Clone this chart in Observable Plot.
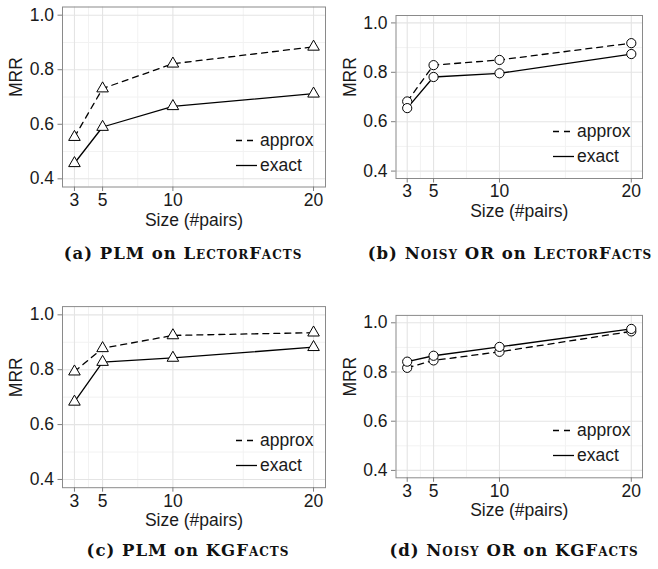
<!DOCTYPE html>
<html>
<head>
<meta charset="utf-8">
<script src="https://cdn.jsdelivr.net/npm/d3@7"></script>
<script src="https://cdn.jsdelivr.net/npm/@observablehq/plot@0.6"></script>
<style>
  html, body { margin: 0; padding: 0; background: #fff; }
  #fig { position: relative; width: 658px; height: 569px; overflow: hidden; background: #fff; }
  .cell { position: absolute; }
  .cap { position: absolute; transform: translate(-50%, -50%); white-space: nowrap;
         font-family: "DejaVu Serif", serif; font-weight: bold; font-size: 16.5px; letter-spacing: 1px; color: #111; }
  .sc { font-variant: small-caps; }
  .leg { position: absolute; font-family: "Liberation Sans", Arial, sans-serif; font-size: 17.5px; color: #1a1a1a; }
  .leg div { position: absolute; white-space: nowrap; height: 20px; line-height: 20px; transform: translateY(-50%); }
  .leg svg { position: absolute; left: 0; top: 9px; }
  .leg span { position: absolute; left: 24px; top: 0; }
</style>
</head>
<body>
<div id="fig"></div>
<script>
// ---- data ----
const sizes = [3, 5, 10, 20];
const xTicks = [3, 5, 10, 20];
const xMinor = [4, 7.5, 15];
const yTicks = [0.4, 0.6, 0.8, 1.0];
const yMinor = [0.5, 0.7, 0.9];
const seriesNames = ["approx", "exact"];

const plmLectorApprox   = [0.553, 0.731, 0.822, 0.884];
const plmLectorExact    = [0.457, 0.590, 0.666, 0.712];
const noisyLectorApprox = [0.682, 0.829, 0.850, 0.918];
const noisyLectorExact  = [0.655, 0.781, 0.796, 0.874];
const plmKGApprox       = [0.793, 0.878, 0.925, 0.935];
const plmKGExact        = [0.683, 0.828, 0.843, 0.882];
const noisyKGApprox     = [0.817, 0.847, 0.882, 0.965];
const noisyKGExact      = [0.842, 0.866, 0.902, 0.975];

const xLabel = "Size (#pairs)";
const yLabel = "MRR";

// ---- layout per panel ----
const panels = [
  {left: 0,   top: 0,   mL: 62,   mR: 4,    mT: 6.5,  mB: 53.5, approx: plmLectorApprox,   exact: plmLectorExact,   symbol: "triangle", r: 4.3,
   cap: ["(a) PLM on ", "LectorFacts"], capX: 183, capY: 253},
  {left: 329, top: 0,   mL: 66.5, mR: 16,   mT: 15,   mB: 62,   approx: noisyLectorApprox, exact: noisyLectorExact, symbol: "circle",   r: 4.6,
   cap: ["(b) ", "Noisy", " OR on ", "LectorFacts"], capX: 510, capY: 253},
  {left: 0,   top: 300, mL: 62,   mR: 4,    mT: 6.1,  mB: 52.8, approx: plmKGApprox,       exact: plmKGExact,       symbol: "triangle", r: 4.3,
   cap: ["(c) PLM on ", "KGFacts"], capX: 188, capY: 550},
  {left: 329, top: 300, mL: 66.5, mR: 16,   mT: 14.9, mB: 62.7, approx: noisyKGApprox,     exact: noisyKGExact,     symbol: "circle",   r: 4.6,
   cap: ["(d) ", "Noisy", " OR on ", "KGFacts"], capX: 514, capY: 550}
];

const W = 329, H = 240;
const DASH = "6,5";
const fig = document.getElementById("fig");

panels.forEach(p => {
  const rows = [];
  sizes.forEach((s, i) => {
    rows.push({size: s, mrr: p.approx[i], method: seriesNames[0]});
    rows.push({size: s, mrr: p.exact[i], method: seriesNames[1]});
  });
  const approxRows = rows.filter(d => d.method === "approx");
  const exactRows = rows.filter(d => d.method === "exact");

  const chart = Plot.plot({
    width: W, height: H,
    marginLeft: p.mL, marginRight: p.mR, marginTop: p.mT, marginBottom: p.mB,
    style: {fontFamily: "Liberation Sans, Arial, sans-serif", fontSize: "17.5px", color: "#1a1a1a", background: "transparent", overflow: "visible"},
    x: {domain: [2.15, 20.85]},
    y: {domain: [0.37, 1.03]},
    marks: [
      Plot.ruleX(xMinor, {stroke: "#f2f2f2", strokeWidth: 1}),
      Plot.ruleY(yMinor, {stroke: "#f2f2f2", strokeWidth: 1}),
      Plot.ruleX(xTicks, {stroke: "#e4e4e4", strokeWidth: 1.1}),
      Plot.ruleY(yTicks, {stroke: "#e4e4e4", strokeWidth: 1.1}),
      Plot.frame({stroke: "#8a8a8a", strokeWidth: 1}),
      Plot.line(approxRows, {x: "size", y: "mrr", stroke: "#000", strokeWidth: 1.3, strokeDasharray: DASH}),
      Plot.line(exactRows, {x: "size", y: "mrr", stroke: "#000", strokeWidth: 1.3}),
      Plot.dot(rows, {x: "size", y: "mrr", symbol: () => p.symbol, r: p.r, fill: "#fff", stroke: "#000", strokeWidth: 1}),
      Plot.axisX({ticks: xTicks, tickSize: 4.5, tickPadding: 2, stroke: "#7f7f7f", fill: "#1a1a1a", label: null, tickFormat: d => String(d)}),
      Plot.axisY({ticks: yTicks, tickSize: 4.5, tickPadding: 4, stroke: "#7f7f7f", fill: "#1a1a1a", label: null, tickFormat: d3.format(".1f")}),
      Plot.text([xLabel], {frameAnchor: "bottom", dy: 33, lineAnchor: "middle", fill: "#1a1a1a"}),
      Plot.text([yLabel], {frameAnchor: "left", dx: -46, rotate: -90, lineAnchor: "middle", fill: "#1a1a1a"})
    ]
  });
  const cell = document.createElement("div");
  cell.className = "cell";
  cell.style.left = p.left + "px";
  cell.style.top = p.top + "px";
  cell.appendChild(chart);
  fig.appendChild(cell);

  // legend (inside panel, bottom-right)
  const panelRight = p.left + W - p.mR;
  const panelBottom = p.top + H - p.mB;
  const leg = document.createElement("div");
  leg.className = "leg";
  leg.style.left = (panelRight - 89) + "px";
  leg.style.top = "0px";
  [["approx", DASH, 47], ["exact", null, 22]].forEach(([name, dash, off]) => {
    const item = document.createElement("div");
    item.style.left = "0px";
    item.style.top = (panelBottom - off) + "px";
    item.innerHTML = `<svg width="22" height="3"><line x1="0" x2="21" y1="1.5" y2="1.5" stroke="#000" stroke-width="1.3" ${dash ? `stroke-dasharray="${dash}"` : ""}/></svg><span>${name}</span>`;
    leg.appendChild(item);
  });
  fig.appendChild(leg);

  // caption
  const cap = document.createElement("div");
  cap.className = "cap";
  cap.style.left = p.capX + "px";
  cap.style.top = p.capY + "px";
  cap.innerHTML = p.cap.map(t => (t === "LectorFacts" || t === "Noisy" || t === "KGFacts") ? `<span class="sc">${t}</span>` : t).join("");
  fig.appendChild(cap);
});
</script>
</body>
</html>
